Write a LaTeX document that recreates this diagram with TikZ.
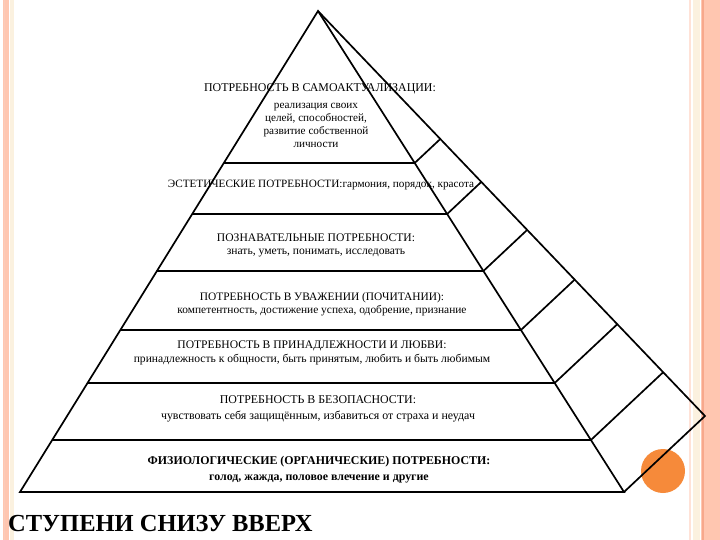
\documentclass[tikz,border=0pt]{standalone}
\usepackage{fontspec}
\setmainfont{Liberation Serif}
\begin{document}
\begin{tikzpicture}[x=1pt,y=-1pt,
  ln/.style={line width=1.7pt,line join=miter},
  txt/.style={font=\fontsize{11.9}{13}\selectfont,inner sep=0pt,align=center},
  btxt/.style={font=\fontsize{11.9}{16}\selectfont\bfseries,inner sep=0pt,align=center}]
\definecolor{salmon}{HTML}{FFC6B0}
\definecolor{salmonD}{HTML}{F7A88C}
\definecolor{beige}{HTML}{FBF1DF}
\definecolor{orng}{HTML}{F68A3A}
\useasboundingbox (0,0) rectangle (720,540);
\fill[white] (0,0) rectangle (720,540);
% borders
\fill[salmon] (3,0) rectangle (9,540);
\fill[salmonD!60] (4,0) rectangle (5,540);
\fill[beige] (10,0) rectangle (14,540);
\fill[salmon!50] (689,0) rectangle (691,540);
\fill[beige] (693,0) rectangle (700,540);
\fill[salmon] (701,0) rectangle (720,540);
\fill[salmonD] (702,0) rectangle (704,540);
% circle
\fill[orng] (663,471) circle (22);
% geometry
\coordinate (A) at (318,11);
\coordinate (BL) at (20,492);
\coordinate (BR) at (624,492);
\coordinate (BK) at (705,416);
\foreach \y/\bx/\by [count=\i] in {163/440.3/139, 214/481.3/181.9, 271/527.2/229.9, 330/574.7/279.6, 383/617.3/324.2, 440/663.2/372.2}{
  \coordinate (L\i) at ({318-0.6195*(\y-11)},\y);
  \coordinate (R\i) at ({318+0.6362*(\y-11)},\y);
  \coordinate (K\i) at (\bx,\by);
  \draw[ln] (L\i) -- (R\i) -- (K\i);
}
\draw[ln] (BL) -- (A) -- (BR) -- cycle;
\draw[ln] (A) -- (BK) -- (BR);
\draw[line width=2.4pt] (BL) -- (BR);
% texts
\node[txt] (t1) at (320,89) {ПОТРЕБНОСТЬ В САМОАКТУАЛИЗАЦИИ:};
\node[txt,font=\fontsize{11.2}{13}\selectfont] (t1b) at (316,125) {реализация своих\\целей, способностей,\\развитие собственной\\личности};
\node[txt,font=\fontsize{11.2}{13}\selectfont] (t2) at (321,185) {ЭСТЕТИЧЕСКИЕ ПОТРЕБНОСТИ:гармония, порядок, красота};
\node[txt,font=\fontsize{11.6}{13}\selectfont] (t3) at (316,245) {ПОЗНАВАТЕЛЬНЫЕ ПОТРЕБНОСТИ:\\знать, уметь, понимать, исследовать};
\node[txt,font=\fontsize{11.4}{13}\selectfont] (t4) at (322,304) {ПОТРЕБНОСТЬ В УВАЖЕНИИ (ПОЧИТАНИИ):\\компетентность, достижение успеха, одобрение, признание};
\node[txt,font=\fontsize{11.6}{14}\selectfont] (t5) at (312,352.5) {ПОТРЕБНОСТЬ В ПРИНАДЛЕЖНОСТИ И ЛЮБВИ:\\принадлежность к общности, быть принятым, любить и быть любимым};
\node[txt,font=\fontsize{11.9}{16}\selectfont] (t6) at (318,409) {ПОТРЕБНОСТЬ В БЕЗОПАСНОСТИ:\\чувствовать себя защищённым, избавиться от страха и неудач};
\node[btxt] (t7) at (319,470) {ФИЗИОЛОГИЧЕСКИЕ (ОРГАНИЧЕСКИЕ) ПОТРЕБНОСТИ:\\голод, жажда, половое влечение и другие};
\node[inner sep=0pt,anchor=west,font=\fontsize{24.5}{28}\selectfont\bfseries] (title) at (8,524) {СТУПЕНИ СНИЗУ ВВЕРХ};
\end{tikzpicture}
\end{document}
